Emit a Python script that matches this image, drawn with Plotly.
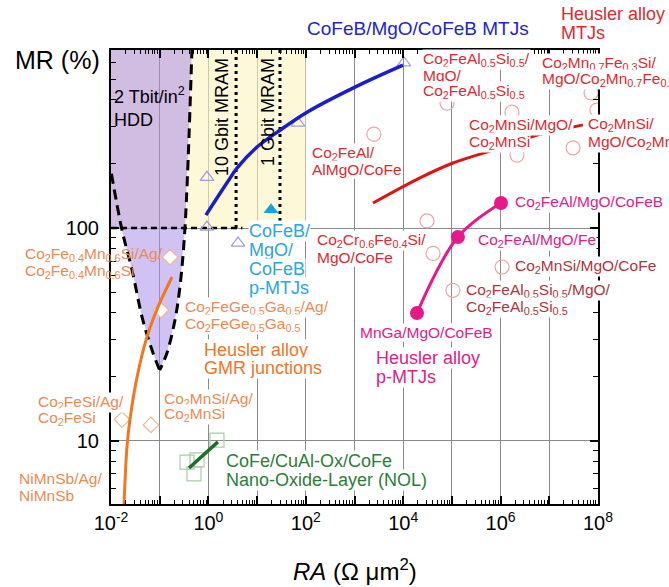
import plotly.graph_objects as go

# ---------------- data (RA in Ohm um^2, MR in %) ----------------
cofeb_ra = [0.89, 2.41, 3.86, 9.96, 29.5, 106, 1023, 9900]
cofeb_mr = [115, 163, 191, 240, 288, 350, 459, 582]
cofeb_pts_ra = [0.935, 0.935, 4.06, 69, 10370]
cofeb_pts_mr = [173, 101, 85, 311, 596]
pmtj_ra = [19.3]
pmtj_mr = [122]

heus_ra = [2400, 22100, 105000, 973000, 4.0e6, 4.9e7]
heus_mr = [131, 172, 202, 238, 267, 305]
heus_pts_ra = [2500, 30800, 41000, 105000, 1.07e6, 79400, 1.71e6, 2.17e6, 3.07e7, 7.2e7, 9.5e7]
heus_pts_mr = [276, 108, 76, 51, 65.6, 386, 350, 220, 238, 431, 358]

hpm_ra = [19200, 133000, 1.02e6]
hpm_mr = [39.9, 90.7, 131]

nol_ra = [0.4, 1.57]
nol_mr = [7.46, 9.9]
nol_pts_ra = [0.364, 0.584, 0.506, 1.50]
nol_pts_mr = [7.96, 8.15, 7.0, 10.1]

gmr_ra = [0.0185, 0.0213, 0.0245, 0.0342, 0.0548, 0.0923, 0.179]
gmr_mr = [5.0, 9.4, 12.6, 19.9, 30.8, 42.6, 58.9]
gmr_pts_ra = [0.163, 0.106, 0.0168, 0.066]
gmr_pts_mr = [73, 41.2, 12.6, 11.9]

# region boundaries
hdd_left_ra = [0.0102, 0.0168, 0.027, 0.045, 0.073, 0.1]
hdd_left_mr = [180, 98, 63.5, 37, 25.9, 21.5]
hdd_right_ra = [0.46, 0.33, 0.26, 0.206, 0.141, 0.1]
hdd_right_mr = [700, 100, 52.8, 37, 25.9, 21.5]
mram_ra = [0.46, 100]          # yellow band
mram_mr = [100, 700]
gbit10_ra = 3.7
gbit1_ra = 29.5

x_tick_vals = [10.0 ** e for e in range(-2, 9)]
x_tick_text = [("10<sup>%d</sup>" % e) if e % 2 == 0 else "" for e in range(-2, 9)]
y_tick_vals = [10, 100]
y_tick_text = ["10", "100"]

# ---------------- figure ----------------
W, H = 669, 587
L, R, T, B = 111, 598, 50, 504
FONT = "Liberation Sans, Arial, Helvetica, sans-serif"

def px(xp):
    return (xp - L) / (R - L)

def py(yp):
    return (B - yp) / (B - T)

fig = go.Figure()

# yellow MRAM region
fig.add_trace(go.Scatter(
    x=[hdd_right_ra[0], mram_ra[1], mram_ra[1], hdd_right_ra[1], hdd_right_ra[0]],
    y=[mram_mr[1], mram_mr[1], mram_mr[0], mram_mr[0], mram_mr[1]],
    fill="toself", fillcolor="rgba(250,243,190,0.6)", line=dict(width=0),
    mode="lines", hoverinfo="skip"))
# purple HDD upper block
fig.add_trace(go.Scatter(
    x=[0.01, 0.01, hdd_right_ra[0], hdd_right_ra[1], 0.01],
    y=[100, 700, hdd_right_mr[0], hdd_right_mr[1], 100],
    fill="toself", fillcolor="rgba(175,140,205,0.58)", line=dict(width=0),
    mode="lines", hoverinfo="skip"))
# purple HDD cone
cone_x = hdd_left_ra[1:] + hdd_right_ra[::-1][1:-1]
cone_y = hdd_left_mr[1:] + hdd_right_mr[::-1][1:-1]
fig.add_trace(go.Scatter(
    x=[0.0165] + cone_x + [0.0165], y=[100] + cone_y + [100],
    fill="toself", fillcolor="rgba(170,145,235,0.55)", line=dict(width=0),
    mode="lines", hoverinfo="skip"))
# dashed HDD boundaries
for xs, ys in [(hdd_left_ra, hdd_left_mr), (hdd_right_ra, hdd_right_mr)]:
    fig.add_trace(go.Scatter(x=xs, y=ys, mode="lines",
                             line=dict(color="black", width=3, dash="10px,6px", shape="spline"),
                             hoverinfo="skip"))
fig.add_trace(go.Scatter(x=[0.01, 5], y=[100, 100], mode="lines",
                         line=dict(color="black", width=2.5, dash="6px,4px"), hoverinfo="skip"))
for gx in [gbit10_ra, gbit1_ra]:
    fig.add_trace(go.Scatter(x=[gx, gx], y=[100, 700], mode="lines",
                             line=dict(color="black", width=3, dash="3px,4px"), hoverinfo="skip"))

# series
fig.add_trace(go.Scatter(x=cofeb_pts_ra, y=cofeb_pts_mr, mode="markers",
                         marker=dict(symbol="triangle-up-open", size=12, color="#9d9de0", line=dict(width=1.2))))
fig.add_trace(go.Scatter(x=cofeb_ra, y=cofeb_mr, mode="lines",
                         line=dict(color="#1c1cc8", width=3.5, shape="spline")))
fig.add_trace(go.Scatter(x=pmtj_ra, y=pmtj_mr, mode="markers",
                         marker=dict(symbol="triangle-up", size=13, color="#1aa0e0")))
fig.add_trace(go.Scatter(x=heus_pts_ra, y=heus_pts_mr, mode="markers",
                         marker=dict(symbol="circle-open", size=14, color="#eba5a5", line=dict(width=1.2))))
fig.add_trace(go.Scatter(x=heus_ra, y=heus_mr, mode="lines",
                         line=dict(color="#dd1414", width=3, shape="spline")))
fig.add_trace(go.Scatter(x=hpm_ra, y=hpm_mr, mode="lines+markers",
                         line=dict(color="#e6198a", width=3, shape="spline"),
                         marker=dict(size=14, color="#e6198a")))
fig.add_trace(go.Scatter(x=nol_pts_ra, y=nol_pts_mr, mode="markers",
                         marker=dict(symbol="square-open", size=14, color="#a8cba8", line=dict(width=1.2))))
fig.add_trace(go.Scatter(x=nol_ra, y=nol_mr, mode="lines",
                         line=dict(color="#1f6e2a", width=3.5)))
fig.add_trace(go.Scatter(x=gmr_pts_ra, y=gmr_pts_mr, mode="markers",
                         marker=dict(symbol="diamond", size=12, color="white",
                                     line=dict(color="#f2b48e", width=1.2))))
fig.add_trace(go.Scatter(x=gmr_ra, y=gmr_mr, mode="lines",
                         line=dict(color="#f07820", width=3, shape="spline")))

# ---------------- labels ----------------
BLUE = "#2424cc"
RED = "#dc2a30"
DARK = "#b0343a"
MAG = "#e0208a"
CYAN = "#2aa6de"
ORG = "#ec7626"
ORGL = "#eb8a52"
GRN = "#2c7d3a"
S = "<sub>%s</sub>"

labels = [
    (["CoFeB/MgO/CoFeB MTJs"], 306, 29, 0, BLUE, 19, False),
    (["Heusler alloy", "MTJs"], 560, 14, 19, RED, 18, False),
    (["2 Tbit/in<sup>2</sup>", "HDD"], 113, 95, 25, "black", 18, False),
    (["Co" + S % "2" + "FeAl/", "AlMgO/CoFe"], 311, 153, 17, RED, 15.5, True),
    (["Co" + S % "2" + "FeAl" + S % "0.5" + "Si" + S % "0.5" + "/", "MgO/",
      "Co" + S % "2" + "FeAl" + S % "0.5" + "Si" + S % "0.5"], 422, 59, 16, RED, 15.5, True),
    (["Co" + S % "2" + "Mn" + S % "0.7" + "Fe" + S % "0.3" + "Si/",
      "MgO/Co" + S % "2" + "Mn" + S % "0.7" + "Fe" + S % "0.3" + "Si"], 541, 63, 16, RED, 15.5, True),
    (["Co" + S % "2" + "MnSi/MgO/", "Co" + S % "2" + "MnSi"], 468, 126, 16, RED, 15.5, True),
    (["Co" + S % "2" + "MnSi/", "MgO/Co" + S % "2" + "MnSi"], 587, 125, 17, RED, 15.5, True),
    (["Co" + S % "2" + "Cr" + S % "0.6" + "Fe" + S % "0.4" + "Si/", "MgO/CoFe"], 316, 240, 17, RED, 15.5, True),
    (["CoFeB/", "MgO/", "CoFeB", "p-MTJs"], 248, 231, 19, CYAN, 18, True),
    (["Co" + S % "2" + "FeAl/MgO/CoFeB"], 514, 203, 0, MAG, 15.5, True),
    (["Co" + S % "2" + "FeAl/MgO/Fe"], 477, 240, 0, MAG, 15.5, True),
    (["Co" + S % "2" + "MnSi/MgO/CoFe"], 514, 266, 0, DARK, 15.5, True),
    (["Co" + S % "2" + "FeAl" + S % "0.5" + "Si" + S % "0.5" + "/MgO/",
      "Co" + S % "2" + "FeAl" + S % "0.5" + "Si" + S % "0.5"], 465, 290, 17, DARK, 15.5, True),
    (["MnGa/MgO/CoFeB"], 359, 332, 0, MAG, 15.5, True),
    (["Heusler alloy", "p-MTJs"], 375, 358, 19, MAG, 18, True),
    (["Co" + S % "2" + "Fe" + S % "0.4" + "Mn" + S % "0.6" + "Si/Ag/",
      "Co" + S % "2" + "Fe" + S % "0.4" + "Mn" + S % "0.6" + "Si"], 24, 255, 16, ORGL, 15.5, False),
    (["Co" + S % "2" + "FeGe" + S % "0.5" + "Ga" + S % "0.5" + "/Ag/",
      "Co" + S % "2" + "FeGe" + S % "0.5" + "Ga" + S % "0.5"], 184, 307, 17, ORGL, 15.5, True),
    (["Heusler alloy", "GMR junctions"], 203, 350, 18, ORG, 18, True),
    (["Co" + S % "2" + "FeSi/Ag/", "Co" + S % "2" + "FeSi"], 37, 402, 16, ORGL, 15.5, True),
    (["Co" + S % "2" + "MnSi/Ag/", "Co" + S % "2" + "MnSi"], 163, 399, 15, ORGL, 15.5, True),
    (["NiMnSb/Ag/", "NiMnSb"], 18, 478, 17, ORGL, 15.5, False),
    (["CoFe/CuAl-Ox/CoFe", "Nano-Oxide-Layer (NOL)"], 225, 461, 19, GRN, 18, True),
]

annotations = []
for lines, lx, ly, sp, col, size, bg in labels:
    for i, txt in enumerate(lines):
        annotations.append(dict(
            x=px(lx), y=py(ly + i * sp), xref="paper", yref="paper",
            xanchor="left", yanchor="middle", text=txt, showarrow=False,
            font=dict(family=FONT, size=size, color=col),
            bgcolor="white" if bg else "rgba(0,0,0,0)", borderpad=0))

for txt, cx, cy in [("10 Gbit MRAM", 222, 117), ("1 Gbit MRAM", 268, 112)]:
    annotations.append(dict(x=px(cx), y=py(cy), xref="paper", yref="paper",
                            xanchor="center", yanchor="middle", text=txt, textangle=-90,
                            showarrow=False, font=dict(family=FONT, size=18, color="black")))

annotations.append(dict(x=px(13), y=py(60), xref="paper", yref="paper", xanchor="left",
                        yanchor="middle", text="MR (%)", showarrow=False,
                        font=dict(family=FONT, size=25, color="black")))
annotations.append(dict(x=px(355), y=py(570), xref="paper", yref="paper", xanchor="center",
                        yanchor="middle", text="<i>RA</i> (Ω μm<sup>2</sup>)", showarrow=False,
                        font=dict(family=FONT, size=24, color="black")))

x_minor = [m * 10.0 ** e for e in range(-2, 8) for m in range(2, 10)]
y_minor = [6, 7, 8, 9, 20, 30, 40, 50, 60, 70, 80, 90, 200, 300, 400, 500, 600]

fig.update_layout(
    width=W, height=H, autosize=False,
    margin=dict(l=L, r=W - R, t=T, b=H - B),
    paper_bgcolor="white", plot_bgcolor="white",
    showlegend=False,
    font=dict(family=FONT, color="black"),
    annotations=annotations,
    xaxis=dict(type="log", range=[-2, 8], tickmode="array", tickvals=x_tick_vals,
               ticktext=x_tick_text, showgrid=True, gridcolor="#8a8a8a", gridwidth=1.2,
               ticks="inside", ticklen=8, tickwidth=1.5, tickcolor="black",
               showline=True, linecolor="black", linewidth=2, mirror="ticks",
               zeroline=False, layer="above traces",
               tickfont=dict(family=FONT, size=20, color="black"),
               minor=dict(tickmode="array", tickvals=x_minor, ticks="inside", ticklen=4,
                          tickwidth=1, tickcolor="black", showgrid=False)),
    yaxis=dict(type="log", range=[0.704, 2.836], tickmode="array", tickvals=y_tick_vals,
               ticktext=y_tick_text, showgrid=True, gridcolor="#8a8a8a", gridwidth=1.2,
               ticks="inside", ticklen=8, tickwidth=1.5, tickcolor="black",
               showline=True, linecolor="black", linewidth=2, mirror="ticks",
               zeroline=False, layer="above traces", ticklabelstandoff=6,
               tickfont=dict(family=FONT, size=20, color="black"),
               minor=dict(tickmode="array", tickvals=y_minor, ticks="inside", ticklen=5,
                          tickwidth=1, tickcolor="black", showgrid=False)),
)

fig.write_html("out.html", config={"displayModeBar": False},
               post_script="document.body.style.margin='0px';document.body.style.overflow='hidden';")
